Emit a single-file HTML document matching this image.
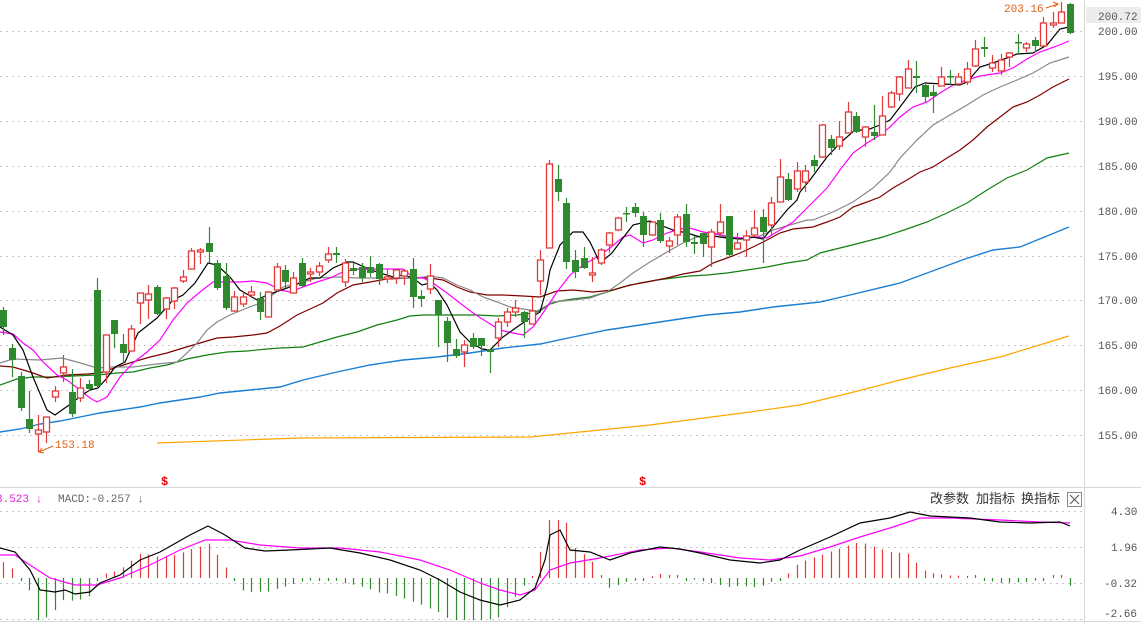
<!DOCTYPE html>
<html><head><meta charset="utf-8"><style>
html,body{margin:0;padding:0;background:#fff;width:1141px;height:623px;overflow:hidden}
svg{display:block}
text{font-family:"Liberation Mono","DejaVu Sans Mono",monospace}
.cj{font-family:"Liberation Sans","Noto Sans CJK SC",sans-serif}
</style></head><body>
<svg id="s" width="1141" height="623" xmlns="http://www.w3.org/2000/svg">
<g id="grid" stroke="#c8c8c8" stroke-dasharray="2,4" stroke-width="1">
<line x1="0" x2="1084" y1="31.5" y2="31.5"/><line x1="0" x2="1084" y1="76.5" y2="76.5"/>
<line x1="0" x2="1084" y1="121.5" y2="121.5"/><line x1="0" x2="1084" y1="166.5" y2="166.5"/>
<line x1="0" x2="1084" y1="211.5" y2="211.5"/><line x1="0" x2="1084" y1="256.5" y2="256.5"/>
<line x1="0" x2="1084" y1="300.5" y2="300.5"/><line x1="0" x2="1084" y1="345.5" y2="345.5"/>
<line x1="0" x2="1084" y1="390.5" y2="390.5"/><line x1="0" x2="1084" y1="435.5" y2="435.5"/>
<line x1="0" x2="1084" y1="511.5" y2="511.5"/><line x1="0" x2="1084" y1="547.5" y2="547.5"/>
<line x1="0" x2="1084" y1="583.5" y2="583.5"/><line x1="0" x2="1084" y1="619.5" y2="619.5"/>
</g>
<line x1="1084.5" x2="1084.5" y1="0" y2="623" stroke="#d8d8d8"/>
<line x1="0" x2="1141" y1="487.5" y2="487.5" stroke="#d8d8d8"/>
<line x1="0" x2="1141" y1="621.5" y2="621.5" stroke="#d8d8d8"/>
<g id="mas" fill="none" stroke-width="1.2"></g>
<g id="cd"></g>
<g id="macd"></g>
<g fill="#555" font-size="11">
<rect x="1086" y="7" width="55" height="16" fill="#ececec"/>
<text x="1098" y="20">200.72</text>
<text x="1098" y="35">200.00</text><text x="1098" y="80">195.00</text><text x="1098" y="125">190.00</text>
<text x="1098" y="170">185.00</text><text x="1098" y="215">180.00</text><text x="1098" y="260">175.00</text>
<text x="1098" y="304">170.00</text><text x="1098" y="349">165.00</text><text x="1098" y="394">160.00</text>
<text x="1098" y="439">155.00</text>
<text x="1111" y="515">4.30</text><text x="1111" y="551">1.96</text><text x="1104" y="587">-0.32</text><text x="1104" y="617">-2.66</text>
</g>
<text x="1004" y="12" font-size="11" fill="#e06010">203.16</text>
<polyline points="1046,8 1058,4" stroke="#e06010" fill="none"/><polyline points="1053,2 1058,4 1054,7" stroke="#e06010" fill="none"/>
<text x="55" y="448" font-size="11" fill="#e06010">153.18</text>
<polyline points="39,452 53,446" stroke="#e06010" fill="none"/><polyline points="42,448 39,452 44,453" stroke="#e06010" fill="none"/>
<text x="161" y="485" font-size="12" font-weight="bold" fill="#e00">$</text>
<text x="639" y="485" font-size="12" font-weight="bold" fill="#e00">$</text>
<text x="-4" y="502" font-size="11" fill="#e020e0">3.523 ↓</text>
<text x="58" y="502" font-size="11" fill="#666">MACD:-0.257 ↓</text>
<text class="cj" x="930" y="503" font-size="13" fill="#333">改参数</text>
<text class="cj" x="976" y="503" font-size="13" fill="#333">加指标</text>
<text class="cj" x="1021" y="503" font-size="13" fill="#333">换指标</text>
<rect x="1067.5" y="492.5" width="14" height="14" fill="#fff" stroke="#888"/>
<path d="M1070,495 L1079,504 M1079,495 L1070,504" stroke="#555"/>
</svg>
<script>
var NS="http://www.w3.org/2000/svg";
function el(p,t,a){var e=document.createElementNS(NS,t);for(var k in a)e.setAttribute(k,a[k]);p.appendChild(e);return e;}
var mas=document.getElementById('mas');
function pl(c,pts,w){el(mas,'polyline',{points:pts,stroke:c,'stroke-width':w||1.2});}
pl('#ffa500',"157,443 300,438 530,437 560,434 650,425 750,412 800,405 850,393 900,380 950,368 1000,357 1069,336");
pl('#1a7fd4',"0,432 20,429 40,424 60,421 80,417 100,413 120,410 140,407 160,403 180,400 200,397 220,393 240,391 260,389 280,387 303,380 337,372 370,365 403,360 437,357 470,353 503,348 540,344 573,337 607,330 640,325 673,320 707,315 740,312 773,307 820,302 850,295 900,283 965,259 993,250 1020,247 1047,236 1069,227",1.4);
pl('#108010',"0,385 17,379 33,377 53,377 73,376 97,375 117,373 133,372 150,368 167,365 187,359 207,355 227,352 247,351 267,349 280,348 303,347 320,342 337,337 357,332 377,325 397,320 410,316 423,315 437,315 457,315 477,315 497,316 517,315 533,313 540,311 550,304 560,301 573,299 590,297 607,292 623,287 640,283 657,280 673,278 690,276 707,275 727,273 747,270 767,267 787,263 807,260 820,253 840,248 860,243 883,237 907,229 927,222 947,213 967,203 987,190 1007,178 1027,170 1047,158 1069,153");
pl('#800000',"0,366 13,367 30,372 47,378 67,375 87,374 100,373 117,367 133,362 150,357 167,353 183,348 200,343 217,338 233,337 253,335 267,333 280,326 297,315 310,309 323,303 337,293 353,285 370,282 387,279 410,278 430,278 443,280 457,287 470,292 487,295 503,295 523,296 540,297 557,291 573,290 593,292 613,290 630,285 647,282 667,278 683,274 700,271 713,263 727,258 740,253 753,247 767,240 780,233 793,229 813,227 827,222 840,217 853,207 867,202 880,197 893,188 907,180 920,172 933,167 947,158 960,150 973,140 987,127 1000,117 1013,107 1027,102 1040,95 1053,87 1069,79");
pl('#888',"0,363 13,359 40,360 62,358 77,362 97,368 110,367 133,367 157,364 177,362 187,353 197,343 207,330 217,322 230,315 247,308 263,302 283,287 303,282 317,278 337,277 357,278 377,278 397,278 417,278 430,276 443,278 457,285 470,290 483,297 497,302 510,307 523,309 537,311 553,302 573,300 590,298 607,292 620,283 633,273 650,262 667,252 683,243 697,237 710,233 727,237 740,239 757,237 773,230 790,225 807,220 813,220 833,212 853,202 873,188 890,172 900,158 917,140 933,125 950,115 967,105 983,95 1000,87 1017,80 1033,73 1050,63 1069,57");
pl('#ff00ff',"0,332 13,334 23,343 33,350 43,362 57,375 67,380 80,390 90,398 97,402 107,397 120,377 133,363 147,352 160,340 173,320 187,303 200,292 213,282 227,282 240,282 253,281 267,283 280,290 290,292 303,287 317,282 330,278 343,272 357,269 370,269 383,269 403,269 413,277 423,278 433,283 447,293 460,303 473,313 487,322 500,330 513,333 523,335 533,327 543,313 547,307 557,292 570,275 583,265 597,257 610,248 623,237 630,235 643,243 653,240 667,233 680,229 690,228 703,232 717,234 730,237 743,238 757,237 767,238 780,230 793,222 807,208 813,202 827,188 840,170 853,153 867,143 880,135 890,127 900,117 913,107 927,102 940,93 953,85 967,80 980,76 1000,73 1013,68 1027,59 1040,52 1057,46 1069,41");
pl('#000',"0,327 13,335 23,350 33,377 47,410 55,415 62,410 72,403 82,395 90,390 98,388 107,378 115,367 125,362 138,333 157,318 173,300 183,295 195,283 208,263 217,265 230,277 240,290 257,300 267,295 287,288 300,283 310,278 320,278 333,268 347,262 353,262 362,266 377,272 393,277 403,275 413,278 422,285 430,283 437,290 447,305 460,332 470,342 482,349 490,350 503,337 517,327 530,318 540,312 547,287 550,270 560,245 573,232 583,232 590,242 600,263 612,253 623,238 633,225 650,221 660,225 673,230 687,233 700,237 713,236 727,238 740,239 753,237 763,239 773,227 787,210 797,200 800,192 810,180 827,157 840,143 855,130 867,130 880,125 890,120 900,107 915,87 925,83 943,84 960,85 967,82 980,67 993,63 1007,58 1017,54 1033,53 1047,45 1060,29 1069,27");
var C=[[3,310,327,307,335,'g'],[12,348,360,344,377,'g'],[21,376,408,372,411,'g'],[29,419,429,391,433,'g'],[38,430,434,415,452,'r'],[46,417,432,417,443,'r'],[55,391,397,386,402,'r'],[63,367,373,355,382,'r'],[72,392,414,369,417,'g'],[80,388,398,378,402,'r'],[89,384,389,380,391,'g'],[97,290,386,278,387,'g'],[106,335,372,335,383,'r'],[114,320,334,320,348,'g'],[123,344,353,334,366,'g'],[131,329,351,325,351,'r'],[140,293,303,293,324,'r'],[148,294,300,285,319,'r'],[157,287,314,285,315,'g'],[166,298,309,297,319,'r'],[174,288,301,287,309,'r'],[183,277,281,270,283,'r'],[191,251,269,248,269,'r'],[200,250,252,248,264,'r'],[209,243,252,227,263,'g'],[217,263,288,260,290,'g'],[226,276,308,263,310,'g'],[234,297,311,291,312,'r'],[243,297,304,291,307,'r'],[251,292,295,286,298,'r'],[260,298,312,292,320,'g'],[268,292,317,291,317,'r'],[277,267,290,263,292,'r'],[285,270,282,265,288,'g'],[293,278,293,272,293,'r'],[302,263,286,258,287,'g'],[310,272,274,268,282,'r'],[319,266,272,262,276,'r'],[328,254,260,247,263,'r'],[336,253,255,247,263,'g'],[345,263,282,259,287,'r'],[353,268,271,263,275,'g'],[362,267,278,263,282,'g'],[370,267,273,256,277,'g'],[379,264,279,263,285,'g'],[387,277,279,269,283,'r'],[396,270,278,269,284,'r'],[404,271,276,269,285,'r'],[413,269,297,258,308,'g'],[421,296,299,290,307,'g'],[430,276,289,264,294,'r'],[438,300,315,300,347,'g'],[447,321,343,317,362,'g'],[456,349,356,339,358,'g'],[464,345,352,340,367,'r'],[473,338,347,333,349,'g'],[481,338,346,338,356,'g'],[490,349,352,349,373,'g'],[498,322,338,318,347,'r'],[507,312,322,308,327,'r'],[515,308,312,300,317,'r'],[524,312,322,311,338,'g'],[532,311,324,297,324,'r'],[540,260,281,250,295,'r'],[549,164,248,160,248,'r'],[558,179,192,165,201,'g'],[566,203,262,198,269,'g'],[575,260,272,250,278,'g'],[584,258,268,247,269,'g'],[592,273,275,257,282,'r'],[601,250,263,248,265,'r'],[609,233,245,232,253,'r'],[618,218,230,217,231,'r'],[626,213,214,207,222,'g'],[635,207,213,203,217,'g'],[643,216,235,212,247,'g'],[652,222,235,222,236,'r'],[660,220,241,213,243,'g'],[669,241,246,237,253,'r'],[677,217,235,214,245,'r'],[686,214,242,204,247,'g'],[694,242,244,236,254,'g'],[703,233,244,233,257,'g'],[711,232,247,229,267,'r'],[720,222,233,204,235,'r'],[729,216,255,216,258,'g'],[737,243,249,233,250,'r'],[746,236,240,230,257,'r'],[754,228,235,210,237,'r'],[763,217,232,209,263,'g'],[771,203,225,197,235,'r'],[780,177,202,159,202,'r'],[788,179,200,173,201,'g'],[797,171,189,162,192,'r'],[805,171,182,165,192,'r'],[814,160,166,155,172,'g'],[822,125,157,124,158,'r'],[831,139,148,135,155,'g'],[839,137,146,121,150,'r'],[848,112,133,102,133,'r'],[856,116,132,112,133,'g'],[865,127,137,126,147,'r'],[874,132,136,105,140,'g'],[882,116,135,96,135,'r'],[891,93,107,91,108,'r'],[899,77,94,76,101,'r'],[908,69,88,60,88,'r'],[916,76,78,61,93,'g'],[925,85,97,82,102,'g'],[933,92,96,85,113,'g'],[941,77,86,67,86,'r'],[950,76,77,70,85,'g'],[958,77,84,73,85,'r'],[967,69,82,62,85,'r'],[975,49,66,40,67,'r'],[984,47,49,37,57,'g'],[992,63,68,55,72,'r'],[1001,60,71,54,75,'r'],[1009,53,57,52,67,'r'],[1018,42,43,34,54,'g'],[1026,44,48,42,52,'r'],[1035,40,46,37,52,'g'],[1043,23,46,17,46,'r'],[1053,23,25,12,28,'r'],[1061,12,23,2,23,'r'],[1070,4,33,3,34,'g']];
var cd=document.getElementById('cd');
C.forEach(function(c){var x=c[0],col=c[5]=='r'?'#e23a3a':'#2f8a2f';
 el(cd,'line',{x1:x+.5,x2:x+.5,y1:c[3],y2:c[4],stroke:col,'stroke-width':1.2});
 var h=Math.max(c[2]-c[1],1.5);
 if(c[5]=='r')el(cd,'rect',{x:x-2.5,y:c[1],width:6,height:h,fill:'#fff',stroke:col,'stroke-width':1.3});
 else el(cd,'rect',{x:x-3,y:c[1],width:7,height:h,fill:col});
});
var DIF=[[0,548],[15,552],[30,570],[40,590],[55,592],[65,590],[75,594],[90,592],[100,583],[120,575],[140,560],[160,552],[190,535],[208,526],[225,535],[245,548],[265,551],[290,550],[330,548],[360,553],[390,560],[420,570],[440,580],[460,592],[480,600],[500,605],[520,600],[535,588],[545,560],[550,535],[560,530],[570,550],[590,552],[610,560],[630,553],[660,547],[680,549],[700,553],[730,560],[760,563],[780,560],[800,550],[830,537],[860,523],[890,518],[910,512],[930,516],[950,517],[970,518],[1000,522],[1030,523],[1060,522],[1070,526]];
var DEA=[[0,555],[15,555],[30,565],[50,578],[75,585],[97,585],[120,578],[150,565],[180,550],[205,540],[230,540],[260,545],[300,548],[340,548],[380,552],[420,560],[450,570],[480,583],[500,590],[520,595],[535,590],[550,570],[570,563],[600,558],[640,550],[670,548],[700,552],[740,558],[770,560],[800,556],[830,547],[860,537],[890,528],[920,518],[950,518],[1000,520],[1040,522],[1070,523]];
function itp(a,x){for(var i=1;i<a.length;i++){if(x<=a[i][0]){var t=(x-a[i-1][0])/(a[i][0]-a[i-1][0]);return a[i-1][1]+t*(a[i][1]-a[i-1][1]);}}return a[a.length-1][1];}
var mg=document.getElementById('macd');
C.forEach(function(c){var x=c[0]+.5;var d=(itp(DEA,x)-itp(DIF,x))*2.6;d=Math.max(-42,Math.min(58,d));
 if(Math.abs(d)<1.5)d=d<0?-3:3;
 el(mg,'line',{x1:x,x2:x,y1:578,y2:578-d,stroke:d>0?'#e23a3a':'#2f8a2f','stroke-width':1.2});});
el(mg,'polyline',{points:DEA.map(function(p){return p.join(',')}).join(' '),fill:'none',stroke:'#ff00ff','stroke-width':1.2});
el(mg,'polyline',{points:DIF.map(function(p){return p.join(',')}).join(' '),fill:'none',stroke:'#000','stroke-width':1.2});
</script>
</body></html>
